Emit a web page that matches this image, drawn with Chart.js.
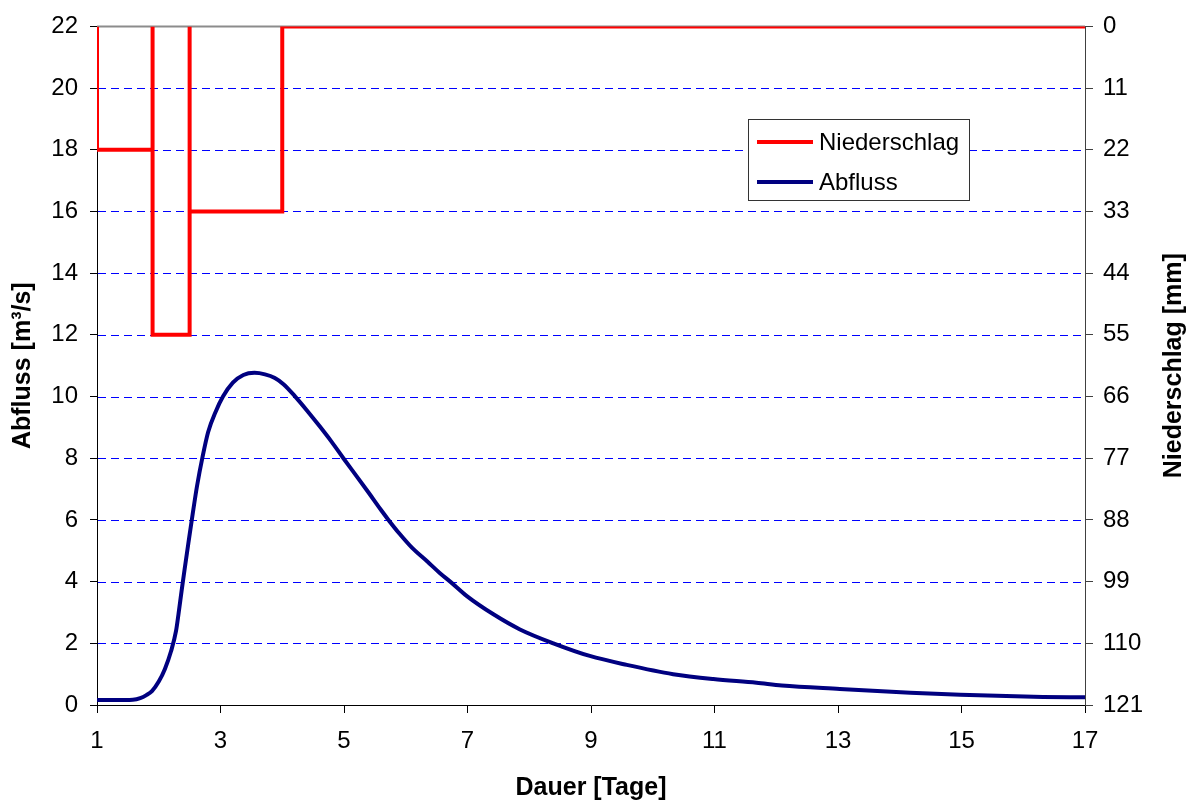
<!DOCTYPE html>
<html>
<head>
<meta charset="utf-8">
<script src="https://cdn.jsdelivr.net/npm/chart.js@4.4.0/dist/chart.umd.min.js"></script>
<style>
  html, body { margin: 0; padding: 0; background: #ffffff; }
  #wrap { width: 1188px; height: 803px; }
</style>
</head>
<body>
<div id="wrap"><canvas id="chart" width="1188" height="803"></canvas></div>
<script>
// Abfluss (discharge) over the event, in m³/s
const abflussTage = [1.00, 1.30, 1.58, 1.70, 1.80, 1.89, 2.00, 2.10, 2.20, 2.28, 2.32, 2.37, 2.42,
  2.48, 2.55, 2.62, 2.71, 2.80, 2.92, 3.04, 3.20, 3.37, 3.55, 3.72, 3.88, 4.02, 4.21, 4.40, 4.60,
  4.80, 4.99, 5.20, 5.40, 5.60, 5.72, 5.90, 6.10, 6.35, 6.55, 6.72, 6.99, 7.42, 7.85, 8.39, 8.98,
  9.58, 10.33, 10.98, 11.68, 12.09, 13.03, 14.17, 14.98, 16.32, 17.00];
const abflussWerte = [0.16, 0.16, 0.17, 0.22, 0.32, 0.45, 0.76, 1.17, 1.75, 2.4, 2.95, 3.7, 4.42,
  5.25, 6.2, 7.1, 8.05, 8.85, 9.5, 10.0, 10.45, 10.7, 10.77, 10.72, 10.6, 10.4, 10.0, 9.55, 9.05,
  8.53, 8.0, 7.43, 6.88, 6.32, 6.0, 5.55, 5.1, 4.65, 4.28, 4.0, 3.53, 2.94, 2.45, 2.0, 1.59,
  1.3, 1.0, 0.84, 0.72, 0.63, 0.52, 0.4, 0.33, 0.26, 0.25];

// Niederschlag (precipitation) blocks, in mm, drawn against the reversed right axis
const niederschlagTage = [1, 1, 1.9, 1.9, 1.9, 2.5, 2.5, 2.5, 4, 4, 17];
const niederschlagMm   = [0, 22, 22, 0, 55, 55, 0, 33, 33, 0, 0];

// Axis ranges and tick steps
const tageBereich = [1, 17];
const tageSchritt = 2;
const abflussBereich = [0, 22];
const abflussSchritt = 2;
const niederschlagBereich = [0, 121];
const niederschlagSchritt = 11;

const FONT = '"Liberation Sans", Arial, sans-serif';
const toXY = (xs, ys) => xs.map((x, i) => ({ x: x, y: ys[i] }));

// Dashed horizontal grid at the Abfluss ticks, and the gray frame line on top
const gridAndFrame = {
  id: 'gridAndFrame',
  beforeDatasetsDraw(chart) {
    const { ctx, chartArea: a } = chart;
    const ys = chart.scales.y;
    ctx.save();
    ctx.strokeStyle = '#0000ff';
    ctx.lineWidth = 1;
    ctx.setLineDash([8, 5]);
    ys.ticks.forEach(t => {
      if (t.value <= abflussBereich[0] || t.value >= abflussBereich[1]) return;
      const py = Math.round(ys.getPixelForValue(t.value)) + 0.5;
      ctx.beginPath();
      ctx.moveTo(a.left + 1, py);
      ctx.lineTo(a.right, py);
      ctx.stroke();
    });
    ctx.setLineDash([]);
    ctx.strokeStyle = '#8c8c8c';
    ctx.lineWidth = 2;
    ctx.beginPath();
    ctx.moveTo(a.left, a.top);
    ctx.lineTo(a.right, a.top);
    ctx.stroke();
    ctx.restore();
  }
};

// Boxed legend inside the plot, plus the right axis title reading upwards
const boxLegend = {
  id: 'boxLegend',
  afterDraw(chart) {
    const { ctx } = chart;
    ctx.save();
    const bx = 748.5, by = 119.5, bw = 221, bh = 81;
    ctx.fillStyle = '#ffffff';
    ctx.fillRect(bx, by, bw, bh);
    ctx.strokeStyle = '#333333';
    ctx.lineWidth = 1;
    ctx.strokeRect(bx, by, bw, bh);
    const order = [1, 0];
    const rowY = [142, 182];
    ctx.font = '24px ' + FONT;
    ctx.textBaseline = 'middle';
    ctx.textAlign = 'left';
    order.forEach((di, r) => {
      const ds = chart.data.datasets[di];
      ctx.strokeStyle = ds.borderColor;
      ctx.lineWidth = 4;
      ctx.beginPath();
      ctx.moveTo(757, rowY[r]);
      ctx.lineTo(813, rowY[r]);
      ctx.stroke();
      ctx.fillStyle = '#000000';
      ctx.fillText(ds.label, 819, rowY[r] + 1);
    });

    const a = chart.chartArea;
    ctx.translate(1174, (a.top + a.bottom) / 2);
    ctx.rotate(-Math.PI / 2);
    ctx.font = 'bold 25px ' + FONT;
    ctx.textAlign = 'center';
    ctx.textBaseline = 'middle';
    ctx.fillText('Niederschlag [mm]', 0, 0);
    ctx.restore();
  }
};

new Chart(document.getElementById('chart'), {
  type: 'line',
  data: {
    datasets: [
      {
        label: 'Abfluss',
        data: toXY(abflussTage, abflussWerte),
        borderColor: '#000080',
        borderWidth: 4,
        pointRadius: 0,
        cubicInterpolationMode: 'monotone',
        fill: false,
        xAxisID: 'x',
        yAxisID: 'y'
      },
      {
        label: 'Niederschlag',
        data: toXY(niederschlagTage, niederschlagMm),
        borderColor: '#ff0000',
        borderWidth: 4,
        pointRadius: 0,
        tension: 0,
        fill: false,
        xAxisID: 'x',
        yAxisID: 'y2'
      }
    ]
  },
  options: {
    responsive: false,
    devicePixelRatio: 1,
    animation: false,
    layout: { padding: { top: 24, left: 0, right: 0, bottom: 0 } },
    plugins: {
      legend: { display: false },
      tooltip: { enabled: false }
    },
    scales: {
      x: {
        type: 'linear',
        position: 'bottom',
        min: tageBereich[0],
        max: tageBereich[1],
        afterFit: s => { s.height = 98; },
        ticks: {
          stepSize: tageSchritt,
          color: '#000000',
          font: { family: FONT, size: 24 },
          padding: 14,
          maxRotation: 0
        },
        grid: { drawOnChartArea: false, tickLength: 8, tickColor: '#000000', tickWidth: 1 },
        border: { color: '#000000', width: 1 },
        title: {
          display: true,
          text: 'Dauer [Tage]',
          color: '#000000',
          font: { family: FONT, size: 25, weight: 'bold' },
          padding: { top: 0, bottom: 0 }
        }
      },
      y: {
        type: 'linear',
        position: 'left',
        min: abflussBereich[0],
        max: abflussBereich[1],
        afterFit: s => { s.width = 97; },
        ticks: {
          stepSize: abflussSchritt,
          color: '#000000',
          font: { family: FONT, size: 24 },
          padding: 12
        },
        grid: { drawOnChartArea: false, tickLength: 7, tickColor: '#000000', tickWidth: 1 },
        border: { color: '#000000', width: 1 },
        title: {
          display: true,
          text: 'Abfluss [m³/s]',
          color: '#000000',
          font: { family: FONT, size: 25, weight: 'bold' },
          padding: { top: 8, bottom: 8 }
        }
      },
      y2: {
        type: 'linear',
        position: 'right',
        reverse: true,
        min: niederschlagBereich[0],
        max: niederschlagBereich[1],
        afterFit: s => { s.width = 103; },
        ticks: {
          stepSize: niederschlagSchritt,
          color: '#000000',
          font: { family: FONT, size: 24 },
          padding: 10
        },
        grid: { drawOnChartArea: false, tickLength: 8, tickColor: '#404040', tickWidth: 1 },
        border: { color: '#404040', width: 1 }
      }
    }
  },
  plugins: [gridAndFrame, boxLegend]
});
</script>
</body>
</html>
